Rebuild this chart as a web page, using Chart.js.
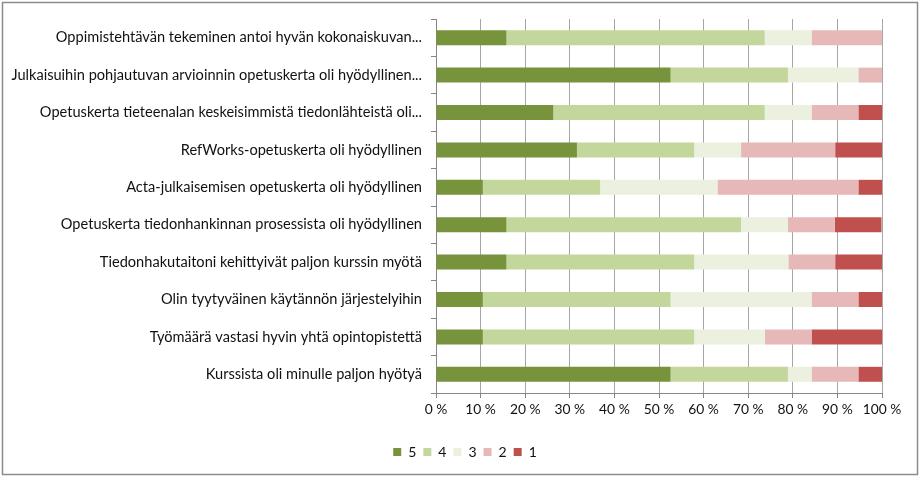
<!DOCTYPE html>
<html>
<head>
<meta charset="utf-8">
<script src="https://cdn.jsdelivr.net/npm/chart.js@4"></script>
<style>
  body { margin: 0; background: #fff; }
  #wrap { width: 920px; height: 477px; position: relative; }
</style>
</head>
<body>
<div id="wrap"><canvas id="myChart" width="920" height="477"></canvas></div>
<script>
// väittämät (ylhäältä alas)
var questions = [
  "Oppimistehtävän tekeminen antoi hyvän kokonaiskuvan...",
  "Julkaisuihin pohjautuvan arvioinnin opetuskerta oli hyödyllinen...",
  "Opetuskerta tieteenalan keskeisimmistä tiedonlähteistä oli...",
  "RefWorks-opetuskerta oli hyödyllinen",
  "Acta-julkaisemisen opetuskerta oli hyödyllinen",
  "Opetuskerta tiedonhankinnan prosessista oli hyödyllinen",
  "Tiedonhakutaitoni kehittyivät paljon kurssin myötä",
  "Olin tyytyväinen käytännön järjestelyihin",
  "Työmäärä vastasi hyvin yhtä opintopistettä",
  "Kurssista oli minulle paljon hyötyä"
];

// osuudet prosentteina, luettu kuvasta
var val5 = [15.8, 52.6, 26.3, 31.6, 10.5, 15.8, 15.8, 10.5, 10.5, 52.6];
var val4 = [57.9, 26.3, 47.4, 26.3, 26.3, 52.6, 42.1, 42.1, 47.4, 26.3];
var val3 = [10.5, 15.8, 10.5, 10.5, 26.3, 10.5, 21.1, 31.6, 15.8, 5.3];
var val2 = [15.8, 5.3, 10.5, 21.1, 31.6, 10.5, 10.5, 10.5, 10.5, 10.5];
var val1 = [0, 0, 5.3, 10.5, 5.3, 10.5, 10.5, 5.3, 15.8, 5.3];

var seriesNames = ["5", "4", "3", "2", "1"];
var tickValues = [0, 10, 20, 30, 40, 50, 60, 70, 80, 90, 100];

var colors = ["#77933C", "#C3D69B", "#EBF1DE", "#E6B9B8", "#C0504D"];
var allVals = [val5, val4, val3, val2, val1];

var frame = {
  id: "frame",
  afterLayout: function (chart) {
    // selite hieman oikealle kuten alkuperäisessä
    chart.legend.left += 24;
    chart.legend.right += 24;
  },
  afterDraw: function (chart) {
    var c = chart.ctx;
    c.save();
    c.strokeStyle = "#8c8c8c";
    c.lineWidth = 1.5;
    c.strokeRect(2.5, 2.5, 915, 472);
    c.restore();
  }
};

Chart.defaults.font.family = "Lato, 'Open Sans', sans-serif";
Chart.defaults.color = "#111";

const ctx = document.getElementById("myChart").getContext("2d");
const myChart = new Chart(ctx, {
  type: "bar",
  data: {
    labels: questions,
    datasets: seriesNames.map((name, i) => {
      return {
        label: name,
        data: allVals[i],
        backgroundColor: colors[i],
        borderWidth: 0,
        barPercentage: 0.4,
        categoryPercentage: 1
      };
    })
  },
  options: {
    indexAxis: "y",
    responsive: false,
    animation: false,
    layout: { padding: { left: 0, right: 38, top: 19, bottom: 8 } },
    plugins: {
      tooltip: { enabled: false },
      legend: {
        position: "bottom",
        labels: {
          boxWidth: 8,
          boxHeight: 8,
          padding: 7,
          font: { size: 14 }
        }
      }
    },
    scales: {
      x: {
        stacked: true,
        min: 0,
        max: 100,
        afterFit: function (s) { s.height = 45; },
        afterBuildTicks: function (s) {
          s.ticks = tickValues.map((v) => ({ value: v }));
        },
        ticks: {
          font: { size: 13.8 },
          padding: 3,
          maxRotation: 0,
          autoSkip: false,
          callback: function (v) { return v + " %"; }
        },
        grid: { color: "#a6a6a6", tickLength: 5, tickColor: "#868686" },
        border: { color: "#868686" }
      },
      y: {
        stacked: true,
        afterFit: function (s) { s.width = 436; },
        ticks: { font: { size: 14.6 }, padding: 9 },
        grid: { drawOnChartArea: false, tickLength: 5, color: "#868686" },
        border: { color: "#868686" }
      }
    }
  },
  plugins: [frame]
});
</script>
</body>
</html>
